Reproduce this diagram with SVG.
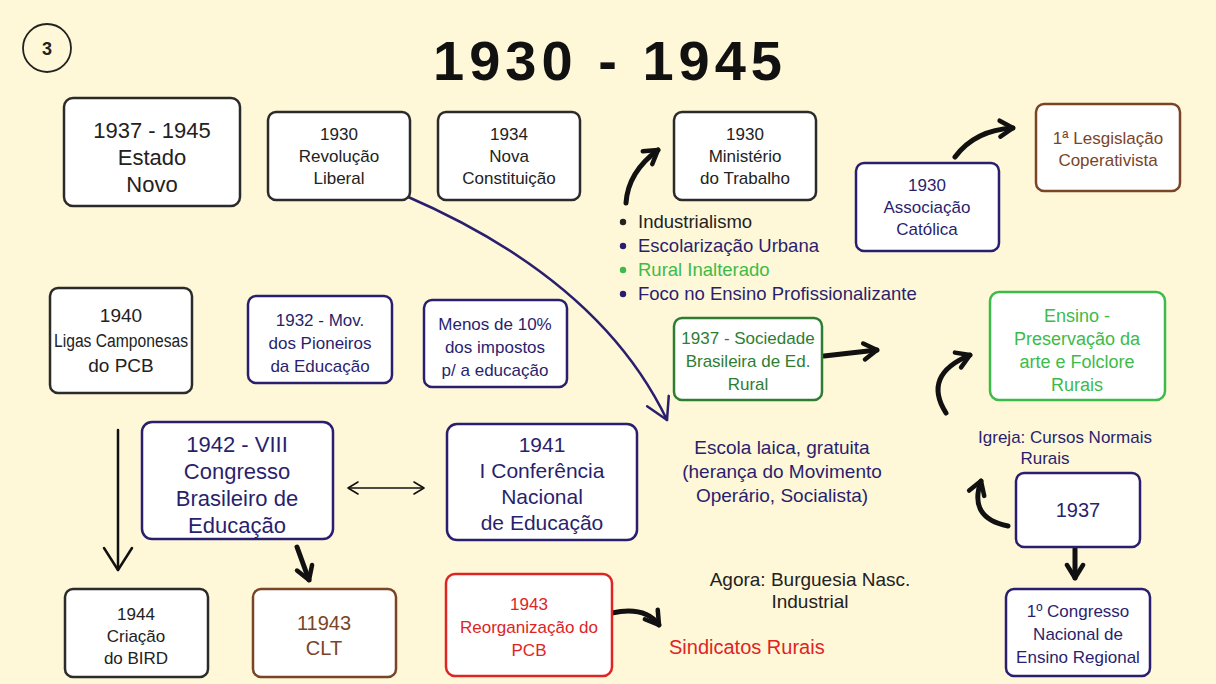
<svg xmlns="http://www.w3.org/2000/svg" width="1216" height="684" viewBox="0 0 1216 684">
<style>
.bg{fill:#fef8d8}
.box{fill:#ffffff;stroke-width:2.5}
.k{stroke:#2b2b2b}
.n{stroke:#2a1f6e}
.br{stroke:#7a4527}
.r{stroke:#e02424}
.g{stroke:#3dbb4a}
.dg{stroke:#2e7d32}
text{font-family:"Liberation Sans",Arial,sans-serif;text-anchor:middle}
.tk{fill:#222222}
.tn{fill:#2a1f6e}
.tbr{fill:#7a4527}
.tr{fill:#e02424}
.tg{fill:#3dbb4a}
.tdg{fill:#2e7d32}
.thick{fill:none;stroke:#111;stroke-width:5;stroke-linecap:round}
</style>
<defs>
<marker id="big" markerUnits="userSpaceOnUse" viewBox="0 0 22 22" markerWidth="22" markerHeight="22" refX="17" refY="11" orient="auto">
<path d="M4,3 L17,11 L4,19" fill="none" stroke="#111" stroke-width="4.5" stroke-linecap="round" stroke-linejoin="round"/>
</marker>
<marker id="longv" markerUnits="userSpaceOnUse" viewBox="0 0 30 34" markerWidth="30" markerHeight="34" refX="26" refY="17" orient="auto">
<path d="M4,3 L26,17 L4,31" fill="none" stroke="#111" stroke-width="2.5" stroke-linecap="round" stroke-linejoin="round"/>
</marker>
<marker id="thin" markerUnits="userSpaceOnUse" viewBox="0 0 14 16" markerWidth="14" markerHeight="16" refX="12" refY="8" orient="auto-start-reverse">
<path d="M2,2 L12,8 L2,14" fill="none" stroke="#111" stroke-width="1.6" stroke-linecap="round" stroke-linejoin="round"/>
</marker>
<marker id="nav" markerUnits="userSpaceOnUse" viewBox="0 0 28 30" markerWidth="28" markerHeight="30" refX="24" refY="15" orient="auto">
<path d="M3,3 L24,15 L3,27" fill="none" stroke="#2a1f6e" stroke-width="2.5" stroke-linecap="round" stroke-linejoin="round"/>
</marker>
</defs>
<rect class="bg" x="0" y="0" width="1216" height="684"/>

<g id="badge">
<circle cx="47" cy="48" r="24" fill="none" stroke="#222" stroke-width="1.8"/>
<text x="47" y="55" font-size="18" font-weight="bold" class="tk">3</text>
</g>
<g id="title">
<text x="610" y="80" font-size="56" font-weight="bold" letter-spacing="5" fill="#111" font-family="'DejaVu Sans',sans-serif">1930 - 1945</text>
</g>

<g id="connectors">
<path class="thick" d="M626,203 Q628,172 658,150" marker-end="url(#big)"/>
<path class="thick" d="M955,157 Q975,130 1013,128" marker-end="url(#big)"/>
<path class="thick" d="M824,356 L877,350" marker-end="url(#big)"/>
<path class="thick" d="M612,613 Q645,606 659,625" marker-end="url(#big)"/>
<path class="thick" d="M946,413 Q922,375 970,355" marker-end="url(#big)"/>
<path class="thick" d="M1008,526 Q968,518 981,481" marker-end="url(#big)"/>
<path class="thick" d="M1075,549 L1075,578" marker-end="url(#big)"/>
<path class="thick" d="M297,547 L309,580" marker-end="url(#big)"/>
<path d="M118,430 L118,570" fill="none" stroke="#111" stroke-width="2.5" stroke-linecap="round" marker-end="url(#longv)"/>
<path d="M348,488 L424,488" fill="none" stroke="#111" stroke-width="1.6" marker-start="url(#thin)" marker-end="url(#thin)"/>
<path d="M406,196 Q600,280 667,420" fill="none" stroke="#2a1f6e" stroke-width="2.5" stroke-linecap="round" marker-end="url(#nav)"/>
</g>

<g id="estado-novo">
<rect class="box k" x="64" y="98" width="176" height="108" rx="9" stroke-width="3"/>
<text class="tk" font-size="22" x="152" y="138">1937 - 1945</text>
<text class="tk" font-size="22" x="152" y="165">Estado</text>
<text class="tk" font-size="22" x="152" y="192">Novo</text>
</g>
<g id="revolucao">
<rect class="box k" x="268" y="112" width="142" height="88" rx="8"/>
<text class="tk" font-size="17" x="339" y="140">1930</text>
<text class="tk" font-size="17" x="339" y="162">Revolução</text>
<text class="tk" font-size="17" x="339" y="184">Liberal</text>
</g>
<g id="constituicao">
<rect class="box k" x="438" y="112" width="142" height="88" rx="8"/>
<text class="tk" font-size="17" x="509" y="140">1934</text>
<text class="tk" font-size="17" x="509" y="162">Nova</text>
<text class="tk" font-size="17" x="509" y="184">Constituição</text>
</g>
<g id="ministerio">
<rect class="box k" x="674" y="112" width="142" height="88" rx="8"/>
<text class="tk" font-size="17" x="745" y="140">1930</text>
<text class="tk" font-size="17" x="745" y="162">Ministério</text>
<text class="tk" font-size="17" x="745" y="184">do Trabalho</text>
</g>
<g id="bullets">
<circle cx="623" cy="222" r="3.2" fill="#222"/>
<text class="tk" font-size="18.5" x="638" y="228" style="text-anchor:start">Industrialismo</text>
<circle cx="623" cy="246" r="3.2" fill="#2a1f6e"/>
<text class="tn" font-size="18.5" x="638" y="252" style="text-anchor:start">Escolarização Urbana</text>
<circle cx="623" cy="270" r="3.2" fill="#3dbb4a"/>
<text class="tg" font-size="18.5" x="638" y="276" style="text-anchor:start">Rural Inalterado</text>
<circle cx="623" cy="294" r="3.2" fill="#2a1f6e"/>
<text class="tn" font-size="18.5" x="638" y="300" style="text-anchor:start">Foco no Ensino Profissionalizante</text>
</g>
<g id="associacao">
<rect class="box n" x="856" y="163" width="143" height="88" rx="8"/>
<text class="tn" font-size="17" x="927" y="191">1930</text>
<text class="tn" font-size="17" x="927" y="213">Associação</text>
<text class="tn" font-size="17" x="927" y="235">Católica</text>
</g>
<g id="legislacao">
<rect class="box br" x="1036" y="104" width="144" height="87" rx="8"/>
<text class="tbr" font-size="17" x="1108" y="144">1ª Lesgislação</text>
<text class="tbr" font-size="17" x="1108" y="166">Coperativista</text>
</g>
<g id="ligas">
<rect class="box k" x="50" y="288" width="142" height="105" rx="8" stroke-width="3"/>
<text class="tk" font-size="19" x="121" y="322">1940</text>
<text class="tk" font-size="18" x="121" y="347" textLength="134" lengthAdjust="spacingAndGlyphs">Ligas Camponesas</text>
<text class="tk" font-size="19" x="121" y="372">do PCB</text>
</g>
<g id="pioneiros">
<rect class="box n" x="248" y="296" width="144" height="87" rx="8"/>
<text class="tn" font-size="17" x="320" y="326">1932 - Mov.</text>
<text class="tn" font-size="17" x="320" y="349">dos Pioneiros</text>
<text class="tn" font-size="17" x="320" y="372">da Educação</text>
</g>
<g id="impostos">
<rect class="box n" x="424" y="300" width="143" height="87" rx="8"/>
<text class="tn" font-size="17" x="495" y="330">Menos de 10%</text>
<text class="tn" font-size="17" x="495" y="353">dos impostos</text>
<text class="tn" font-size="17" x="495" y="376">p/ a educação</text>
</g>
<g id="sociedade">
<rect class="box dg" x="674" y="318" width="148" height="82" rx="8"/>
<text class="tdg" font-size="17" x="748" y="344">1937 - Sociedade</text>
<text class="tdg" font-size="17" x="748" y="367">Brasileira de Ed.</text>
<text class="tdg" font-size="17" x="748" y="390">Rural</text>
</g>
<g id="ensino">
<rect class="box g" x="990" y="292" width="175" height="108" rx="9"/>
<text class="tg" font-size="18" x="1077" y="322">Ensino -</text>
<text class="tg" font-size="18" x="1077" y="345">Preservação da</text>
<text class="tg" font-size="18" x="1077" y="368">arte e Folclore</text>
<text class="tg" font-size="18" x="1077" y="391">Rurais</text>
</g>
<g id="igreja">
<text class="tn" font-size="17" x="1065" y="443">Igreja: Cursos Normais</text>
<text class="tn" font-size="17" x="1045" y="464">Rurais</text>
</g>
<g id="n1937">
<rect class="box n" x="1016" y="473" width="124" height="74" rx="8"/>
<text class="tn" font-size="20" x="1078" y="517">1937</text>
</g>
<g id="congresso-regional">
<rect class="box n" x="1006" y="589" width="144" height="87" rx="8"/>
<text class="tn" font-size="17" x="1078" y="617">1º Congresso</text>
<text class="tn" font-size="17" x="1078" y="640">Nacional de</text>
<text class="tn" font-size="17" x="1078" y="663">Ensino Regional</text>
</g>
<g id="escola">
<text class="tn" font-size="19" x="782" y="454">Escola laica, gratuita</text>
<text class="tn" font-size="19" x="782" y="478">(herança do Movimento</text>
<text class="tn" font-size="19" x="782" y="502">Operário, Socialista)</text>
</g>
<g id="congresso-viii">
<rect class="box n" x="142" y="422" width="191" height="117" rx="10" stroke-width="3"/>
<text class="tn" font-size="22" x="237" y="452">1942 - VIII</text>
<text class="tn" font-size="22" x="237" y="479">Congresso</text>
<text class="tn" font-size="22" x="237" y="506">Brasileiro de</text>
<text class="tn" font-size="22" x="237" y="533">Educação</text>
</g>
<g id="conferencia">
<rect class="box n" x="447" y="424" width="190" height="116" rx="10" stroke-width="3"/>
<text class="tn" font-size="21" x="542" y="452">1941</text>
<text class="tn" font-size="21" x="542" y="478">I Conferência</text>
<text class="tn" font-size="21" x="542" y="504">Nacional</text>
<text class="tn" font-size="21" x="542" y="530">de Educação</text>
</g>
<g id="bird">
<rect class="box k" x="65" y="589" width="143" height="88" rx="8"/>
<text class="tk" font-size="17" x="136" y="620">1944</text>
<text class="tk" font-size="17" x="136" y="642">Criação</text>
<text class="tk" font-size="17" x="136" y="664">do BIRD</text>
</g>
<g id="clt">
<rect class="box br" x="253" y="589" width="143" height="88" rx="8"/>
<text class="tbr" font-size="20" x="324" y="630">11943</text>
<text class="tbr" font-size="20" x="324" y="655">CLT</text>
</g>
<g id="reorganizacao">
<rect class="box r" x="446" y="574" width="166" height="102" rx="9"/>
<text class="tr" font-size="17" x="529" y="610">1943</text>
<text class="tr" font-size="17" x="529" y="633">Reorganização do</text>
<text class="tr" font-size="17" x="529" y="656">PCB</text>
</g>
<g id="sindicatos">
<text class="tr" font-size="20" x="669" y="654" style="text-anchor:start">Sindicatos Rurais</text>
</g>
<g id="burguesia">
<text class="tk" font-size="19" x="810" y="586">Agora: Burguesia Nasc.</text>
<text class="tk" font-size="19" x="810" y="608">Industrial</text>
</g>
</svg>
